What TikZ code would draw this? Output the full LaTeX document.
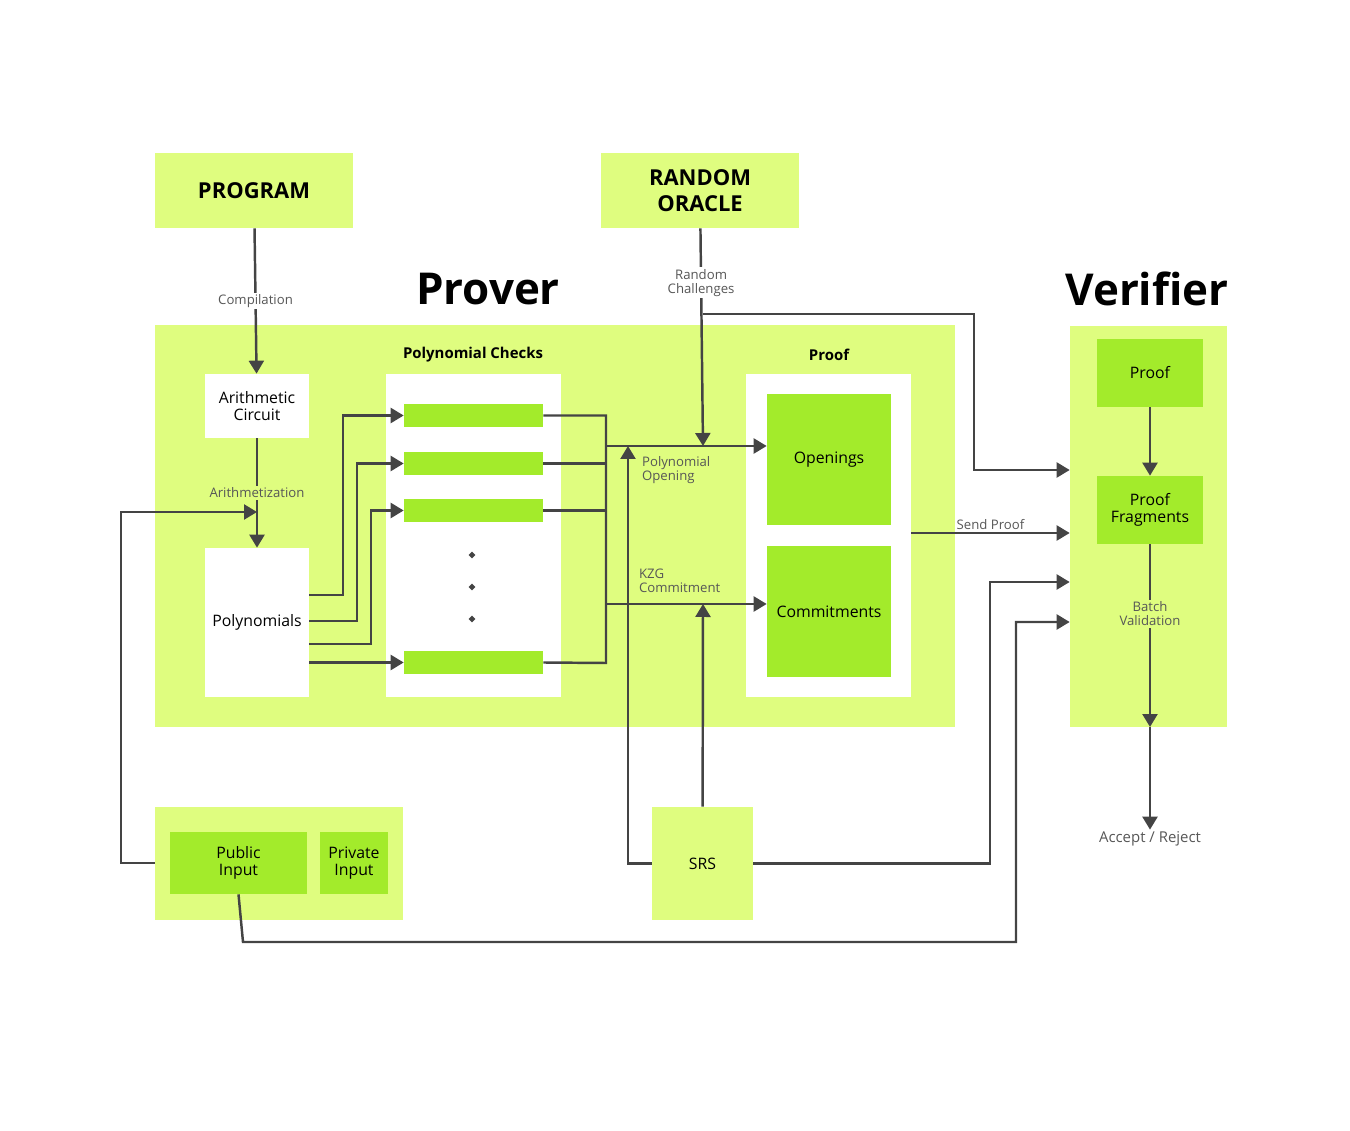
\documentclass[tikz,border=0pt]{standalone}
\usepackage{fontspec}
\setmainfont{Open Sans}
\usetikzlibrary{arrows.meta}
\definecolor{light}{HTML}{DFFD7F}
\definecolor{bright}{HTML}{A3EB2B}
\definecolor{wire}{HTML}{444444}

\tikzset{
  lightbox/.style={fill=light, draw=none, inner sep=0pt},
  brightbox/.style={fill=bright, draw=none, inner sep=0pt, align=center, font=\fontsize{9}{10}\selectfont},
  whitebox/.style={fill=white, draw=none, inner sep=0pt, align=center, font=\fontsize{9}{10}\selectfont},
  heading/.style={font=\fontsize{12.5}{15}\selectfont\bfseries, align=center},
  title/.style={font=\fontsize{25}{28}\selectfont\bfseries},
  subtitle/.style={font=\fontsize{8.5}{10}\selectfont\bfseries},
  lbl/.style={font=\fontsize{7.5}{8}\selectfont, text=wire!90, align=center, inner sep=1pt},
  wire/.style={draw=wire, line width=1.4pt},
  arr/.style={wire, -{Triangle[length=0.26cm, width=0.3cm]}},
}

\begin{document}
\begin{tikzpicture}[x=0.02cm, y=-0.02cm]
\useasboundingbox (0,0) rectangle (1350,1131);

% backgrounds
\node[lightbox, minimum width=16cm, minimum height=8.04cm] (prover) at (555,526) {};
\node[lightbox, minimum width=3.14cm, minimum height=8.02cm] (verifier) at (1148.5,526.5) {};
\node[lightbox, minimum width=4.96cm, minimum height=2.26cm] (inputs) at (279,863.5) {};

% top boxes
\node[lightbox, heading, minimum width=3.96cm, minimum height=1.5cm] (program) at (254,190.5) {PROGRAM};
\node[lightbox, heading, minimum width=3.96cm, minimum height=1.5cm] (oracle) at (700,190.5) {RANDOM\\ORACLE};
\node[title] (provert) at (488,289) {Prover};
\node[title] (verifiert) at (1147,289) {Verifier};

% prover
\node[whitebox, minimum width=2.08cm, minimum height=1.28cm] (arith) at (257,406) {Arithmetic\\Circuit};
\node[whitebox, minimum width=2.08cm, minimum height=2.98cm] (poly) at (257,622.5) {Polynomials};
\node[whitebox, minimum width=3.5cm, minimum height=6.46cm] (checks) at (473.5,535.5) {};
\node[subtitle] (checkst) at (473,355) {Polynomial Checks};
\foreach \name/\y in {c1/415.5, c2/463.5, c3/510.5, c4/662.5}
  \node[brightbox, minimum width=2.78cm, minimum height=0.46cm] (\name) at (473.5,\y) {};
\foreach \y in {555,587,619}
  \fill[wire] (472,\y) circle (1.6);
\node[whitebox, minimum width=3.3cm, minimum height=6.46cm] (proof) at (828.5,535.5) {};
\node[subtitle] (prooft) at (829,355) {Proof};
\node[brightbox, minimum width=2.48cm, minimum height=2.62cm] (open) at (829,459.5) {Openings};
\node[brightbox, minimum width=2.48cm, minimum height=2.62cm] (commit) at (829,611.5) {Commitments};

% verifier
\node[brightbox, minimum width=2.12cm, minimum height=1.36cm] (vproof) at (1150,373) {Proof};
\node[brightbox, minimum width=2.12cm, minimum height=1.36cm] (frag) at (1150,510) {Proof\\Fragments};
\node[lbl] (batch) at (1150,614) {Batch\\Validation};
\node[lbl, font=\fontsize{8.5}{10}\selectfont] (accept) at (1150,839) {Accept / Reject};
\coordinate (vmid) at (1150,727);

% inputs
\node[brightbox, minimum width=2.74cm, minimum height=1.24cm] (public) at (238.5,863) {Public\\Input};
\node[brightbox, minimum width=1.36cm, minimum height=1.24cm] (private) at (354,863) {Private\\Input};
\node[lightbox, font=\fontsize{9}{10}\selectfont, minimum width=2.02cm, minimum height=2.26cm] (srs) at (702.5,863.5) {SRS};

% wires
\draw[arr] (program) -- node[lbl, fill=white] {Compilation} (arith);
\draw[arr] (arith) -- node[lbl, fill=light] {Arithmetization} (poly);
\draw[arr] (public.west -| inputs.west) -- (121,863) -- (121,512) -- (257,512);

\draw[arr] (poly.east |- 0,595) -- (343,595) |- (c1.west);
\draw[arr] (poly.east |- 0,621) -- (357,621) |- (c2.west);
\draw[arr] (poly.east |- 0,644) -- (371,644) |- (c3.west);
\draw[arr] (poly.east |- c4) -- (c4.west);
\draw[wire] (c1.east) -| (606,663) -- (c4.east);
\draw[wire] (c2.east) -- (606,463.5);
\draw[wire] (c3.east) -- (606,510.5);
\draw[arr] (606,446) -- (open.west |- 0,446);
\draw[arr] (606,604) -- (commit.west |- 0,604);
\node[lbl, anchor=west, align=left] (polyopen) at (640,470.5) {Polynomial\\Opening};
\node[lbl, anchor=west, align=left] (kzg) at (637,580.5) {KZG\\Commitment};

\draw[arr] (oracle) -- node[lbl, fill=white, pos=0.25] {Random\\Challenges} (703,446);
\draw[arr] (703,314) -- (974,314) -- (974,470) -- (verifier.west |- 0,470);
\draw[arr] (srs) -- (703,604);
\draw[arr] (srs.west) -- (628,863.5) -- (628,446);
\draw[arr] (srs.east) -- (990,863.5) -- (990,582) -- (verifier.west |- 0,582);
\draw[arr] (public.south) -- (243,942) -- (1016,942) -- (1016,622) -- (verifier.west |- 0,622);
\draw[arr] (proof.east |- 0,533) -- node[lbl, above] {Send Proof} (verifier.west |- 0,533);

\draw[arr] (vproof) -- (frag);
\draw[wire] (frag) -- (batch);
\draw[arr] (batch) -- (vmid);
\draw[arr] (vmid) -- (accept.north);
\end{tikzpicture}
\end{document}
